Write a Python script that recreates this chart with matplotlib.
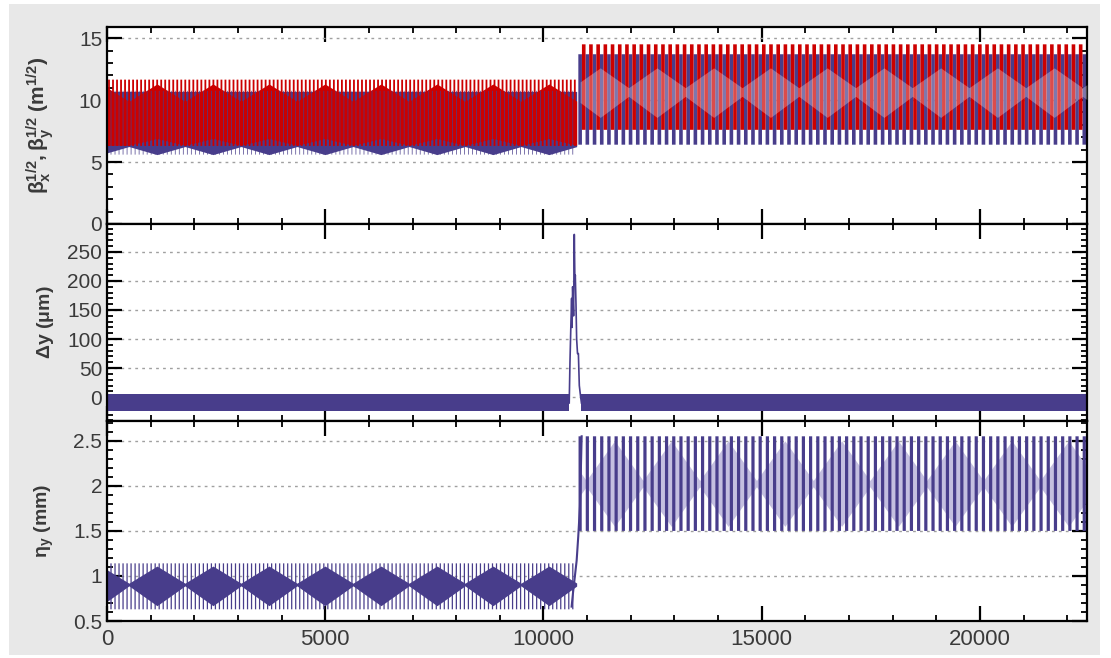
import numpy as np
import matplotlib
matplotlib.use('Agg')
import matplotlib.pyplot as plt
from matplotlib.ticker import MultipleLocator, FuncFormatter
from matplotlib.patches import Rectangle

# ---------------- values ----------------
# two periodic sections of the line: start, end and cell length (m)
sec_start = [0, 10840]
sec_end = [10760, 22450]
sec_cell = [92, 165]

# sqrt(beta) stripes (m^1/2), per section
bx_top = [10.75, 13.7]
bx_bot = [5.6, 6.4]
by_top = [11.65, 14.5]
by_bot = [6.3, 7.6]

# beating pattern: first wide point and beat period (m)
beat_first_a = -138
beat_period_a = 1283
beat_first_b_beta = 10000
beat_first_b_eta = 10330
beat_period_b = 1300

# dense cores in section A, value at (wide, narrow) point
bx_core_low = [5.6, 6.25]
bx_core_top = 10.7
by_core_top = [11.3, 9.9]
by_core_low = [6.35, 6.9]
eta_core_top = [1.11, 0.92]
eta_core_low = [0.67, 0.89]

# lighter interior in section B, (wide, narrow)
beta_light_top = [12.6, 11.0]
beta_light_low = [8.6, 10.3]
eta_light_top = [2.5, 2.06]
eta_light_low = [1.55, 1.99]

# eta_y stripes (mm)
eta_top = [1.14, 2.55]
eta_bot = [0.63, 1.5]
eta_tr_s = [10645, 10676, 10760, 10797, 10836, 10875]
eta_tr = [0.66, 0.81, 1.17, 1.44, 1.77, 2.55]

# delta y (um): band and the bump at the junction
dy_band_start = [0, 10870]
dy_band_end = [10590, 22450]
dy_top = 6
dy_bot = -24
spike_s = [10590, 10607, 10630, 10645, 10655, 10668, 10690, 10706, 10720,
           10729, 10745, 10760, 10780, 10800, 10821, 10852, 10870]
spike_dy = [-10, 60, 130, 170, 120, 190, 140, 280, 200,
            210, 160, 100, 75, 75, 20, 0, -10]

BLUE = '#483d8b'
RED = '#cc0000'
LAV = '#c4bfe0'
TXT = '#3a3a3a'

plt.rcParams['font.family'] = ['Liberation Sans', 'DejaVu Sans']
plt.rcParams['mathtext.fontset'] = 'custom'
plt.rcParams['mathtext.rm'] = 'Liberation Sans'
plt.rcParams['mathtext.it'] = 'Liberation Sans:italic'
plt.rcParams['mathtext.bf'] = 'Liberation Sans:bold'


def cells(i, offset=0.0):
    return np.arange(sec_start[i] + offset, sec_end[i], sec_cell[i])


def beat_nodes(s0, s1, first, period, wide, narrow):
    n = int((s1 - first) / (period / 2)) + 2
    s = first + period / 2 * np.arange(n)
    v = np.array([wide, narrow] * n)[:n]
    inner = (s > s0) & (s < s1)
    xs = np.concatenate([[s0], s[inner], [s1]])
    ys = np.concatenate([[np.interp(s0, s, v)], v[inner], [np.interp(s1, s, v)]])
    return xs, ys


fig = plt.figure(figsize=(11.11, 6.58), dpi=100, facecolor='white')
fig.patches.append(Rectangle((0.0081, 0.0046), 0.982, 0.9893, transform=fig.transFigure,
                             facecolor='#e8e8e8', edgecolor='none', zorder=-10))

ax1 = fig.add_axes([0.0963, 0.6596, 0.882, 0.2994])
ax2 = fig.add_axes([0.0963, 0.3602, 0.882, 0.2994])
ax3 = fig.add_axes([0.0963, 0.0562, 0.882, 0.3040])

# ---- panel 1: sqrt(beta) ----
s0, s1 = sec_start[0], sec_end[0]
xs, lo = beat_nodes(s0, s1, beat_first_a, beat_period_a, *bx_core_low)
ax1.fill_between(xs, lo, bx_core_top, color=BLUE, lw=0, zorder=2.0)
xs, hi = beat_nodes(s0, s1, beat_first_a, beat_period_a, *by_core_top)
xs, lo = beat_nodes(s0, s1, beat_first_a + beat_period_a / 2, beat_period_a, *by_core_low)
ax1.fill_between(xs, lo, hi, color=RED, lw=0, zorder=2.1)
ax1.vlines(cells(0), bx_bot[0], bx_top[0], color=BLUE, lw=0.5, zorder=2.2, snap=False)
ax1.vlines(cells(0, sec_cell[0] / 2), by_bot[0], by_top[0], color=RED, lw=1.3,
           zorder=2.3, snap=False)

s0, s1 = sec_start[1], sec_end[1]
ax1.vlines(cells(1), bx_bot[1], bx_top[1], color=BLUE, lw=2.6, zorder=2, snap=False)
ax1.vlines(cells(1, sec_cell[1] / 2), by_bot[1], by_top[1], color=RED, lw=2.6,
           zorder=2.2, snap=False)
xs, hi = beat_nodes(s0, s1, beat_first_b_beta, beat_period_b, *beta_light_top)
xs, lo = beat_nodes(s0, s1, beat_first_b_beta, beat_period_b, *beta_light_low)
ax1.fill_between(xs, lo, hi, color='white', alpha=0.3, lw=0, zorder=3)

# ---- panel 2: delta y ----
for a, b in zip(dy_band_start, dy_band_end):
    ax2.fill_between([a, b], dy_bot, dy_top, color=BLUE, lw=0)
ax2.plot(spike_s, spike_dy, color=BLUE, lw=1.2)

# ---- panel 3: eta_y ----
s0, s1 = sec_start[0], sec_end[0]
ax3.vlines(cells(0), eta_bot[0], eta_top[0], color=BLUE, lw=0.9, snap=False)
xs, hi = beat_nodes(s0, s1, beat_first_a, beat_period_a, *eta_core_top)
xs, lo = beat_nodes(s0, s1, beat_first_a, beat_period_a, *eta_core_low)
ax3.fill_between(xs, lo, hi, color=BLUE, lw=0)
ax3.plot(eta_tr_s, eta_tr, color=BLUE, lw=1.5)
s0, s1 = sec_start[1], sec_end[1]
xs, hi = beat_nodes(s0, s1, beat_first_b_eta, beat_period_b, *eta_light_top)
xs, lo = beat_nodes(s0, s1, beat_first_b_eta, beat_period_b, *eta_light_low)
ax3.fill_between(xs, lo, hi, color=LAV, lw=0)
ax3.vlines(cells(1), eta_bot[1], eta_top[1], color=BLUE, lw=2.3, snap=False)

# ---- axes styling ----
ax1.set_ylim(0, 15.9)
ax1.yaxis.set_major_locator(MultipleLocator(5))
ax1.yaxis.set_minor_locator(MultipleLocator(1))
ax2.set_ylim(-41, 298)
ax2.yaxis.set_major_locator(MultipleLocator(50))
ax2.yaxis.set_minor_locator(MultipleLocator(10))
ax3.set_ylim(0.5, 2.72)
ax3.yaxis.set_major_locator(MultipleLocator(0.5))
ax3.yaxis.set_minor_locator(MultipleLocator(0.1))
ax3.yaxis.set_major_formatter(FuncFormatter(lambda v, p: '%g' % v))

ax1.set_ylabel(r'$\mathbf{β_x^{1/2}, β_y^{1/2}\ (m^{1/2})}$', fontsize=15, color=TXT)
ax2.set_ylabel(r'$\mathbf{Δy\ (μm)}$', fontsize=14, color=TXT)
ax3.set_ylabel(r'$\mathbf{η_y\ (mm)}$', fontsize=14, color=TXT)

for ax in (ax1, ax2, ax3):
    ax.set_xlim(0, 22450)
    ax.xaxis.set_major_locator(MultipleLocator(5000))
    ax.xaxis.set_minor_locator(MultipleLocator(1000))
    ax.tick_params(which='both', direction='in', top=True, right=True,
                   colors='black', labelcolor=TXT)
    ax.tick_params(which='major', length=11, width=1.6, labelsize=15)
    ax.tick_params(which='minor', length=4, width=1.3)
    ax.grid(axis='y', which='major', color='#a0a0a0', lw=1.0, ls=(0, (2, 3)))
    ax.set_axisbelow(True)
    for sp in ax.spines.values():
        sp.set_linewidth(1.6)
    ax.yaxis.set_label_coords(-0.052, 0.5)
    ax.set_facecolor('white')

ax1.tick_params(labelbottom=False)
ax2.tick_params(labelbottom=False)
ax3.tick_params(axis='x', labelsize=16, pad=6)

fig.savefig('out.png', dpi=100, facecolor=fig.get_facecolor())
